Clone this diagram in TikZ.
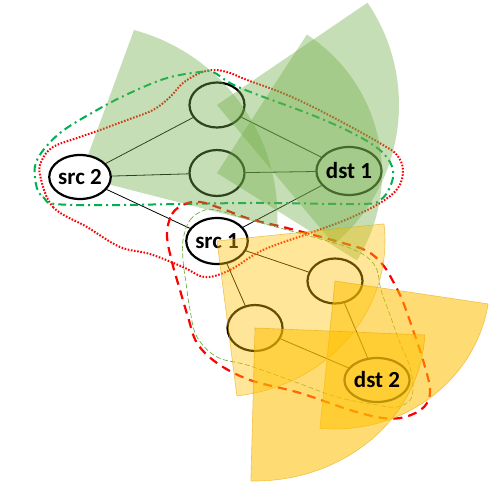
\documentclass[tikz,border=0pt]{standalone}
\usepackage{fontspec}
\setmainfont{Carlito}
\usetikzlibrary{shapes.geometric}
\definecolor{BeamGreen}{RGB}{112,173,71}
\definecolor{BeamGold}{RGB}{255,192,0}
\definecolor{RimGold}{RGB}{230,165,0}
\definecolor{ZoneRed}{RGB}{255,0,0}
\definecolor{ZoneGreen}{RGB}{0,176,80}
\definecolor{DstGreen}{RGB}{70,105,45}
\definecolor{DstGold}{RGB}{190,145,10}
\pgfdeclarelayer{below}
\pgfdeclarelayer{above}
\pgfsetlayers{below,main,above}

\begin{document}
\begin{tikzpicture}[x=1pt, y=-1pt,
      station/.style={ellipse, draw=black, line width=2.2pt, fill=white,
                      minimum width=55pt, minimum height=45pt, inner sep=0pt,
                      font=\fontsize{23}{23}\selectfont\bfseries},
      link/.style={draw=black, line width=0.8pt},
      greenbeam/.style={fill=BeamGreen, fill opacity=0.4},
      goldbeam/.style={fill=BeamGold, fill opacity=#1, draw=RimGold,
                       draw opacity=0.6, line width=0.6pt}
    ]
    \useasboundingbox (0,0) rectangle (500,489);

    % Source of flow 2 and both sinks sit over the beams
    \begin{pgfonlayer}{above}
      \node[station, minimum width=60pt, minimum height=44pt] (src2) at (80,177) {src 2};
      \node[station, fill=none, draw=DstGreen, minimum width=62pt, minimum height=48pt]
        (dst1) at (349,171) {dst 1};
      \node[station, fill=none, draw=DstGold, minimum width=63pt, minimum height=44pt]
        (dst2) at (377,380) {dst 2};
    \end{pgfonlayer}

    \begin{pgfonlayer}{below}
      % Stations
      \node[station] (g1) at (217,105) {};
      \node[station, minimum height=46pt] (g2) at (217,173) {};
      \node[station, minimum height=46pt] (src1) at (217,241) {src 1};
      \node[station] (y1) at (335,281) {};
      \node[station, minimum height=46pt] (y2) at (255,328) {};

      % Links
      \draw[link] (src2) -- (g1);
      \draw[link] (src2) -- (g2);
      \draw[link] (src2) -- (src1);
      \draw[link] (g1) -- (dst1);
      \draw[link] (g2) -- (dst1);
      \draw[link] (src1) -- (dst1);
      \draw[link] (src1) -- (y1);
      \draw[link] (src1) -- (y2);
      \draw[link] (y1) -- (dst2);
      \draw[link] (y2) -- (dst2);

      % Zones
      \draw[ZoneRed, line width=2pt, dash pattern=on 1.6pt off 1.6pt]
        plot[smooth cycle, tension=0.6] coordinates {(40,175) (53,207) (87,227) (120,247)
          (150,254) (183,267) (205,277) (230,270) (263,250) (313,232) (350,218)
          (380,203) (398,188) (403,170) (397,155) (383,145) (353,128) (313,107)
          (280,92) (247,80) (230,73) (215,70) (200,73) (183,83) (170,97) (153,110)
          (127,120) (100,130) (77,138) (53,147) (42,160)};
      \draw[ZoneGreen, line width=2pt, dash pattern=on 8pt off 4pt on 2pt off 4pt]
        plot[smooth cycle, tension=0.6] coordinates {(35,178) (43,197) (73,205) (250,203)
          (360,204) (380,200) (390,187) (393,170) (383,153) (360,137) (317,117)
          (253,93) (230,83) (213,72) (200,72) (167,78) (130,93) (97,110) (60,133)
          (38,158)};
      \draw[ZoneRed, line width=2.2pt, dash pattern=on 9pt off 6pt]
        plot[smooth cycle, tension=0.6] coordinates {(167,235) (172,214) (185,204) (200,202)
          (220,208) (250,219) (283,227) (310,234) (343,243) (367,251) (383,265)
          (395,285) (403,302) (413,330) (423,360) (430,390) (424,407) (405,417)
          (383,418) (350,410) (300,393) (250,380) (217,363) (197,343) (188,317)
          (180,290) (172,262)};
      \draw[BeamGreen, line width=0.7pt, dash pattern=on 5pt off 2.5pt]
        plot[smooth cycle, tension=0.6] coordinates {(183,240) (190,220) (205,210) (220,211)
          (247,219) (280,228) (313,237) (347,247) (367,257) (377,270) (381,290)
          (390,315) (400,343) (410,367) (413,387) (410,400) (397,407) (377,405)
          (337,397) (290,380) (247,365) (217,357) (197,337) (190,310) (186,283)
          (183,260)};
    \end{pgfonlayer}

    % Beams of flow 2
    \fill[greenbeam] (src2.center) -- (134,30)
      arc[start angle=-74.9, end angle=3, radius=194] -- cycle;
    \fill[greenbeam] (g1.center) -- ++(-34.2:182)
      arc[start angle=-34.2, end angle=50, radius=182] -- cycle;
    \fill[greenbeam] (g2.center) -- ++(-57:165)
      arc[start angle=-57, end angle=32, radius=165] -- cycle;

    % Beams of flow 1
    \filldraw[goldbeam=0.4] (src1.center) -- ++(-6.3:168 and 156)
      arc[start angle=-6.3, end angle=83.2, x radius=168, y radius=156] -- cycle;
    \filldraw[goldbeam=0.55] (y1.center) -- ++(8.9:155 and 148)
      arc[start angle=8.9, end angle=95.6, x radius=155, y radius=148] -- cycle;
    \filldraw[goldbeam=0.55] (y2.center) -- ++(2.6:170 and 153)
      arc[start angle=2.6, end angle=91.4, x radius=170, y radius=153] -- cycle;
  \end{tikzpicture}
\end{document}
